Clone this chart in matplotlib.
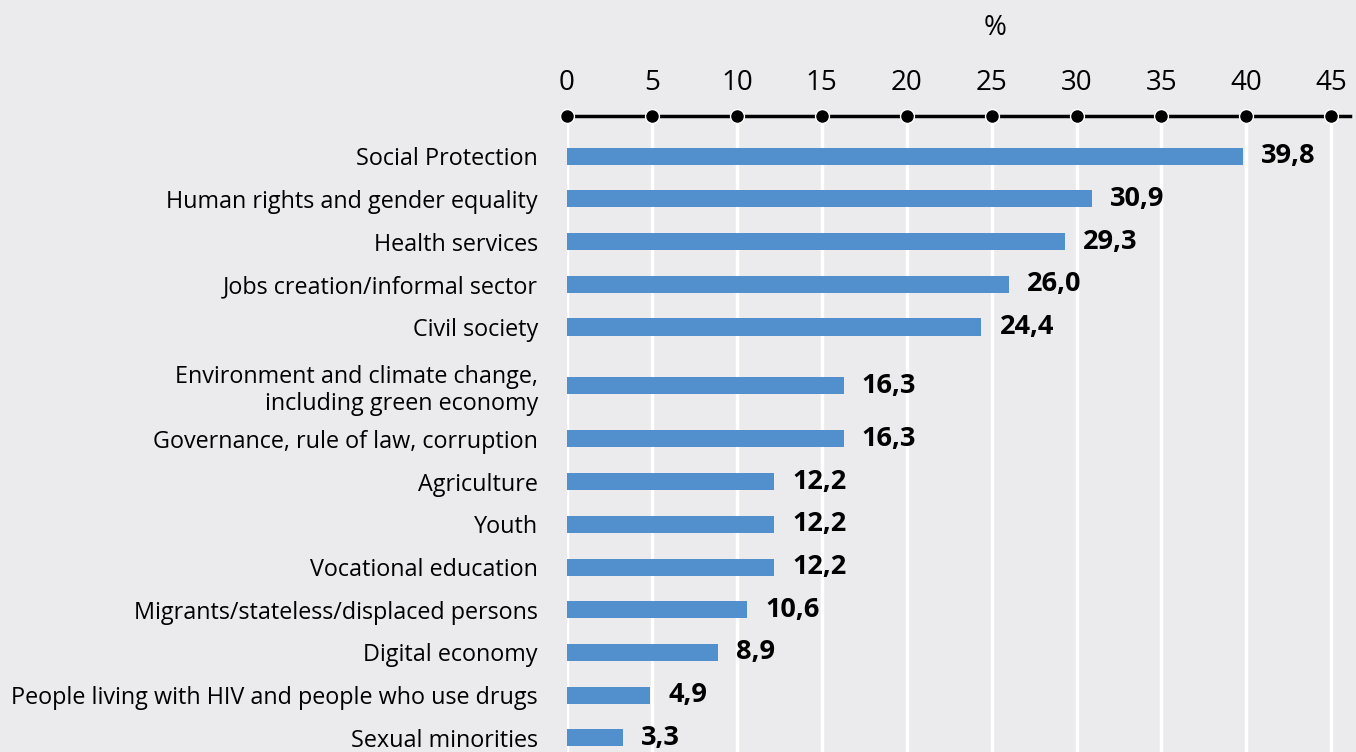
import matplotlib.pyplot as plt

# categories and shares (%), top to bottom
categories = [
    "Social Protection",
    "Human rights and gender equality",
    "Health services",
    "Jobs creation/informal sector",
    "Civil society",
    "Environment and climate change,\nincluding green economy",
    "Governance, rule of law, corruption",
    "Agriculture",
    "Youth",
    "Vocational education",
    "Migrants/stateless/displaced persons",
    "Digital economy",
    "People living with HIV and people who use drugs",
    "Sexual minorities",
]
shares = [39.8, 30.9, 29.3, 26.0, 24.4, 16.3, 16.3, 12.2, 12.2, 12.2, 10.6, 8.9, 4.9, 3.3]
x_ticks = [0, 5, 10, 15, 20, 25, 30, 35, 40, 45]

BG = "#ebebed"
BAR = "#518fcd"

plt.rcParams["font.family"] = ["Open Sans", "DejaVu Sans"]

fig = plt.figure(figsize=(13.56, 7.52), dpi=100, facecolor=BG)
ax = fig.add_axes([567 / 1356, 0, (1350 - 567) / 1356, 1 - 116 / 752])
ax.set_facecolor(BG)

# row positions: two-line labels get a bit more room
ypos = []
y = 0.0
for lab in categories:
    extra = 0.31 * lab.count("\n")
    y += extra * 1.2
    ypos.append(y)
    y += 1 + extra * 0.8

ax.barh(ypos, shares, height=0.4, color=BAR, zorder=2)

for yy, v in zip(ypos, shares):
    ax.annotate(f"{v:.1f}".replace(".", ","), (v, yy), xytext=(13, 0),
                textcoords="offset points", va="center", ha="left",
                fontsize=19.5, fontweight="bold", color="black")

ax.set_xlim(0, 46.1)
ax.set_ylim(ypos[-1] + 0.33, -0.94)

ax.set_yticks(ypos)
ax.set_yticklabels(categories, fontsize=16.8, multialignment="right")
ax.tick_params(axis="y", length=0, pad=21)

ax.xaxis.tick_top()
ax.set_xticks(x_ticks)
ax.set_xticklabels([str(t) for t in x_ticks], fontsize=20)
ax.tick_params(axis="x", length=0, pad=14)

for s in ["left", "right", "bottom"]:
    ax.spines[s].set_visible(False)
ax.spines["top"].set_linewidth(2.5)
ax.spines["top"].set_color("black")

ax.set_axisbelow(True)
ax.grid(axis="x", color="white", linewidth=2.5)
ax.grid(axis="y", visible=False)

# dots on the axis line at every tick
ax.plot(x_ticks, [1] * len(x_ticks), "o", color="black", markersize=10,
        markeredgecolor="white", markeredgewidth=1, transform=ax.get_xaxis_transform(),
        clip_on=False, zorder=5)

fig.text(995 / 1356, 1 - 28 / 752, "%", fontsize=20, ha="center", va="center")

fig.savefig("out.png", dpi=100, facecolor=BG)
